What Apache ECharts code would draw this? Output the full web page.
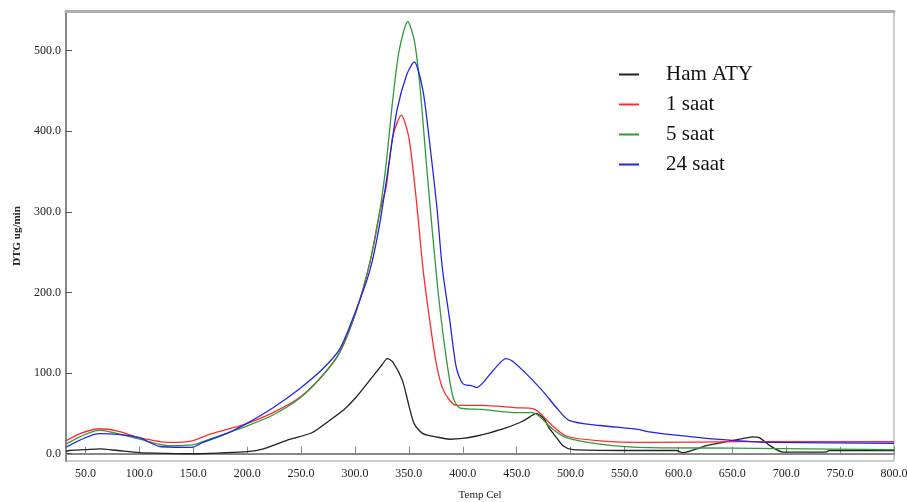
<!DOCTYPE html>
<html>
<head>
<meta charset="utf-8">
<script src="https://cdn.jsdelivr.net/npm/echarts@6/dist/echarts.min.js"></script>
<style>html,body{margin:0;padding:0;background:#fff}#c{width:907px;height:502px}</style>
</head>
<body>
<div id="c"></div>
<script>
var xTicks = [50,100,150,200,250,300,350,400,450,500,550,600,650,700,750,800];
var yTicks = [0,100,200,300,400,500];
var seriesNames = ['Ham ATY','1 saat','5 saat','24 saat'];

var hamTemp = [32,35,50,63,80,100,125,150,175,200,215,240,260,276,290,301,316,325,330,335,344,350,355,363,375,388,400,413,425,440,455,465,468,475,480,487,493,502,550,598,604,626,645,657,669,675,685,697,737,740,800];
var hamDtg  = [3,4,5,6,4,1.5,0.5,0,1,2.5,6,18,26,41,55,70,95,110,118,114,91,60,37,25,21,18,19,22,26,32,40,48,50,44,32,20,10,5,4,4,1.5,10,15,18,21,20,10,2,2,4,4];

var s1Temp = [32,45,63,80,100,128,149,165,181,199,224,249,270,286,301,314,323,329,335,343,350,357,363,369,375,381,388,394,418,450,465,471,483,496,527,573,657,800];
var s1Dtg  = [16,25,31,28,20,14,16,24,30,37,51,70,97,126,176,238,300,331,393,420,392,314,231,169,115,82,66,60,60,57,56,51,35,22,16,14,15,15];

var s5Temp = [32,63,100,128,150,165,199,224,249,270,286,301,314,323,329,335,341,349,355,360,366,372,378,385,391,397,418,450,465,483,496,527,573,650,800];
var s5Dtg  = [12,29,18,10,11,18,34,48,69,97,126,176,238,300,360,438,500,536,513,460,364,273,190,116,70,57,55,51,51,31,20,12,7.5,7,5];

var s24Temp = [32,63,80,100,119,149,159,181,199,224,249,270,286,301,314,323,332,339,348,355,363,369,376,381,388,394,400,409,413,428,440,446,459,474,487,499,527,564,573,626,657,687,800];
var s24Dtg  = [8,25,24,20,9,8,14,25,37,57,81,105,130,178,228,285,364,426,470,486,451,389,306,231,165,107,87,84,82,103,118,115,99,78,57,41,35,30,27,19,16,14,13];

function pairs(xs, ys){ return xs.map(function(x,i){ return [x, ys[i]]; }); }

var colors = ['#222222','#ff2a2a','#2f9a3a','#2424e6'];
var temps = [hamTemp, s1Temp, s5Temp, s24Temp];
var vals = [hamDtg, s1Dtg, s5Dtg, s24Dtg];

var serif = '"Liberation Serif","DejaVu Serif",serif';
var chart = echarts.init(document.getElementById('c'), null, {renderer:'canvas'});
chart.setOption({
  animation: false,
  backgroundColor: '#fff',
  grid: {left: 66, right: 13, top: 11, bottom: 41, show: true, borderColor: '#999', borderWidth: 1,
    containLabel: false, outerBoundsMode: 'none'},
  legend: {
    orient: 'vertical', left: 614, top: 58, itemGap: 7,
    itemWidth: 20, itemHeight: 2, icon: 'rect',
    data: seriesNames,
    textStyle: {fontFamily: serif, fontSize: 21, color: '#111', padding: [0,0,0,22], lineHeight: 23}
  },
  xAxis: [{
    type: 'value', min: 32, max: 800,
    name: 'Temp Cel', nameLocation: 'middle', nameGap: 29,
    nameTextStyle: {fontFamily: serif, fontSize: 11, color: '#222'},
    axisLine: {show: true, lineStyle: {color: '#888', width: 2}},
    axisTick: {show: true, inside: true, length: 7, customValues: xTicks, lineStyle: {color: '#888', width: 1}},
    axisLabel: {customValues: xTicks, fontFamily: serif, fontSize: 12, color: '#222', margin: 7,
      formatter: function(v){ return v.toFixed(1); }},
    splitLine: {show: false}
  }, {
    type: 'value', position: 'top', min: 32, max: 800,
    axisLine: {show: true, lineStyle: {color: '#b0b0b0', width: 3}},
    axisTick: {show: false}, axisLabel: {show: false}, splitLine: {show: false}
  }],
  yAxis: {
    type: 'value', min: -9, max: 549,
    name: 'DTG ug/min', nameLocation: 'middle', nameGap: 42,
    nameTextStyle: {fontFamily: serif, fontSize: 11, fontWeight: 'bold', color: '#222'},
    axisLine: {show: true, lineStyle: {color: '#888', width: 2}},
    axisTick: {show: true, inside: true, length: 6, customValues: yTicks, lineStyle: {color: '#555', width: 1}},
    axisLabel: {customValues: yTicks, fontFamily: serif, fontSize: 12, color: '#222', margin: 5,
      formatter: function(v){ return v.toFixed(1); }},
    splitLine: {show: false}
  },
  series: seriesNames.map(function(n, i){
    return {
      name: n, type: 'line', xAxisIndex: 0,
      data: pairs(temps[i], vals[i]),
      showSymbol: false, smooth: 0.25,
      lineStyle: {color: colors[i], width: 1.3},
      itemStyle: {color: colors[i]}
    };
  })
});
</script>
</body>
</html>
